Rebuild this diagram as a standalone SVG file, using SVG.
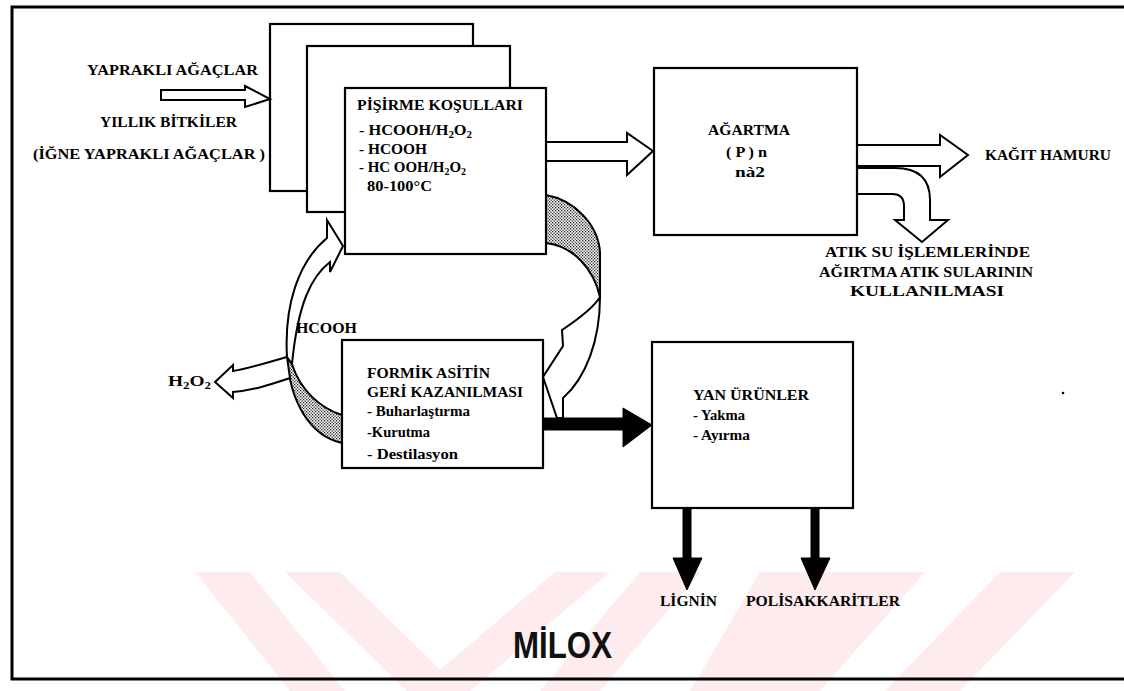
<svg xmlns="http://www.w3.org/2000/svg" width="1124" height="691" viewBox="0 0 1124 691">
<defs>
<pattern id="dots" width="3" height="3" patternUnits="userSpaceOnUse">
<rect width="3" height="3" fill="#fff"/>
<rect x="0" y="0" width="1.3" height="1.3" fill="#222"/>
<rect x="1.5" y="1.5" width="1.3" height="1.3" fill="#222"/>
</pattern>
</defs>
<style>
.box{fill:#fff;stroke:#000;stroke-width:2.2}
.t{font-family:"Liberation Serif","Times New Roman",serif;font-weight:bold;font-size:15px;fill:#000}
.hol{fill:#fff;stroke:#000;stroke-width:2;stroke-linejoin:miter}
.sol{fill:#000;stroke:#000;stroke-width:1}
.shd{fill:url(#dots);stroke:#000;stroke-width:2}
.wm{fill:#fdebed;stroke:none}
.frame{fill:none;stroke:#000;stroke-width:3}
</style>
<rect width="1124" height="691" fill="#fff"/>
<g id="watermark">
<polygon class="wm" points="195,572 250,572 345,691 290,691"/>
<polygon class="wm" points="285,572 340,572 462,691 407,691"/>
<polygon class="wm" points="415,691 470,691 610,572 555,572"/>
<polygon class="wm" points="640,572 700,572 600,691 540,691"/>
<polygon class="wm" points="760,572 925,572 820,691 690,691"/>
<polygon class="wm" points="1000,572 1075,572 960,691 885,691"/>
</g>
<g id="frame">
<path class="frame" d="M1124,7 L12,7 L12,679 L1124,679"/>
</g>
<g id="stack-back">
<rect class="box" x="270" y="24" width="203" height="167"/>
<rect class="box" x="307" y="46" width="203" height="166"/>
</g>
<g id="connectors">
<path class="hol" d="M161,90 L245,90 L245,86 L270,99 L245,107 L245,100 L161,100 Z"/>
<path class="hol" d="M546,142 L627,142 L627,133 L653,151 L627,175 L627,161 L546,161 Z"/>
<path class="hol" d="M857,145 L940,145 L940,135 L968,155 L940,177 L940,166 L857,166 Z"/>
<path class="hol" d="M857,168 L895,168 Q930,168 930,200 L930,220 L948,220 L922,242 L895,220 L904,220 L904,206 Q904,194 892,194 L857,194 Z"/>
<path class="shd" d="M546,195 C574,200 598,224 600,252 L600,297 C594,270 574,246 546,243 Z"/>
<path class="hol" d="M600,297 C600,340 586,378 563,398 L563,418 L557,418 L543,377 L563,346 L562,330 C580,318 594,307 600,297 Z"/>
<path class="shd" d="M287,357 C290,402 310,436 342,443 L342,415 C320,408 300,390 292,364 Z"/>
<path class="hol" d="M287,357 C284,306 298,262 327,238 L327,220 L343,246 L330,272 L330,262 C312,276 298,302 292,364 Z"/>
<path class="hol" d="M287,357 C270,362 250,368 233,371 L233,365 L215,382 L233,398 L233,392 C255,390 272,384 290,378 Z"/>
<path class="sol" d="M543,418 L623,418 L623,408 L652,425 L623,447 L623,430 L543,430 Z"/>
<path class="sol" d="M683,508 L691,508 L691,558 L702,558 L687,590 L673,558 L683,558 Z"/>
<path class="sol" d="M811,508 L819,508 L819,558 L830,558 L815,590 L801,558 L811,558 Z"/>
</g>
<g id="pisirme">
<rect class="box" x="345" y="88" width="201" height="166"/>
<text class="t" x="357" y="110" textLength="166" lengthAdjust="spacingAndGlyphs">PİŞİRME KOŞULLARI</text>
<text class="t" x="359" y="135" textLength="113" lengthAdjust="spacingAndGlyphs">- HCOOH/H<tspan font-size="10" dy="3">2</tspan><tspan dy="-3">O</tspan><tspan font-size="10" dy="3">2</tspan></text>
<text class="t" x="359" y="154" textLength="68" lengthAdjust="spacingAndGlyphs">- HCOOH</text>
<text class="t" x="359" y="172" textLength="107" lengthAdjust="spacingAndGlyphs">- HC OOH/H<tspan font-size="10" dy="3">2</tspan><tspan dy="-3">O</tspan><tspan font-size="10" dy="3">2</tspan></text>
<text class="t" x="367" y="191" textLength="65" lengthAdjust="spacingAndGlyphs">80-100°C</text>
</g>
<g id="inputs">
<text class="t" x="87" y="75" textLength="171" lengthAdjust="spacingAndGlyphs">YAPRAKLI AĞAÇLAR</text>
<text class="t" x="100" y="127" textLength="137" lengthAdjust="spacingAndGlyphs">YILLIK BİTKİLER</text>
<text class="t" x="33" y="159" textLength="232" lengthAdjust="spacingAndGlyphs">(İĞNE YAPRAKLI AĞAÇLAR )</text>
</g>
<g id="agartma">
<rect class="box" x="654" y="68" width="203" height="167"/>
<text class="t" x="708" y="135" textLength="82" lengthAdjust="spacingAndGlyphs">AĞARTMA</text>
<text class="t" x="726" y="157" textLength="41" lengthAdjust="spacingAndGlyphs">( P ) n</text>
<text class="t" x="735" y="177" textLength="30" lengthAdjust="spacingAndGlyphs">nà2</text>
</g>
<g id="kagit">
<text class="t" x="985" y="160" textLength="126" lengthAdjust="spacingAndGlyphs">KAĞIT HAMURU</text>
</g>
<g id="atiksu">
<text class="t" x="825" y="257" textLength="205" lengthAdjust="spacingAndGlyphs">ATIK SU İŞLEMLERİNDE</text>
<text class="t" x="819" y="277" textLength="214" lengthAdjust="spacingAndGlyphs">AĞIRTMA ATIK SULARININ</text>
<text class="t" x="850" y="296" textLength="154" lengthAdjust="spacingAndGlyphs">KULLANILMASI</text>
</g>
<g id="formik">
<rect class="box" x="342" y="340" width="201" height="128"/>
<text class="t" x="367" y="378" textLength="123" lengthAdjust="spacingAndGlyphs">FORMİK ASİTİN</text>
<text class="t" x="367" y="397" textLength="156" lengthAdjust="spacingAndGlyphs">GERİ KAZANILMASI</text>
<text class="t" x="367" y="416" textLength="103" lengthAdjust="spacingAndGlyphs">- Buharlaştırma</text>
<text class="t" x="367" y="437" textLength="63" lengthAdjust="spacingAndGlyphs">-Kurutma</text>
<text class="t" x="367" y="459" textLength="91" lengthAdjust="spacingAndGlyphs">- Destilasyon</text>
</g>
<g id="hcooh">
<text class="t" x="296" y="333" textLength="61" lengthAdjust="spacingAndGlyphs">HCOOH</text>
</g>
<g id="h2o2">
<text class="t" x="168" y="386" textLength="43" lengthAdjust="spacingAndGlyphs">H<tspan font-size="10" dy="3">2</tspan><tspan dy="-3">O</tspan><tspan font-size="10" dy="3">2</tspan></text>
</g>
<g id="yan-urunler">
<rect class="box" x="652" y="342" width="201" height="166"/>
<text class="t" x="693" y="400" textLength="116" lengthAdjust="spacingAndGlyphs">YAN ÜRÜNLER</text>
<text class="t" x="693" y="420" textLength="52" lengthAdjust="spacingAndGlyphs">- Yakma</text>
<text class="t" x="693" y="440" textLength="57" lengthAdjust="spacingAndGlyphs">- Ayırma</text>
</g>
<g id="lignin">
<text class="t" x="660" y="606" textLength="57" lengthAdjust="spacingAndGlyphs">LİGNİN</text>
</g>
<g id="polisakkaritler">
<text class="t" x="746" y="606" textLength="154" lengthAdjust="spacingAndGlyphs">POLİSAKKARİTLER</text>
</g>
<g id="title">
<text x="513" y="658" textLength="99" lengthAdjust="spacingAndGlyphs" style="font-family:'Liberation Sans',Arial,sans-serif;font-weight:bold;font-size:37px;fill:#111">MİLOX</text>
</g>
<circle cx="1063" cy="393" r="1.3" fill="#000"/>
</svg>
